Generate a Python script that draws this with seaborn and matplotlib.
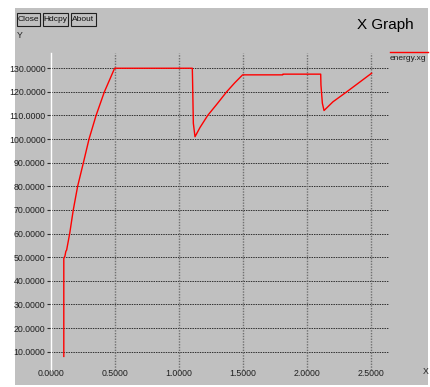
import matplotlib
matplotlib.use("Agg")
import matplotlib.pyplot as plt
import seaborn as sns
import pandas as pd
from matplotlib.patches import Rectangle
from matplotlib.lines import Line2D

# ---- data ----
x_vals = [0.100, 0.100, 0.109, 0.116, 0.122, 0.146, 0.174, 0.208, 0.253, 0.297,
          0.352, 0.417, 0.497, 1.080, 1.104, 1.106, 1.112, 1.125, 1.165, 1.224,
          1.302, 1.372, 1.435, 1.497, 1.810, 1.812, 2.107, 2.109, 2.120, 2.133,
          2.203, 2.310, 2.505]
y_vals = [8.0, 49.5, 50.5, 52.5, 53.0, 60.0, 70.0, 80.0, 90.0, 100.0,
          110.0, 120.0, 130.0, 130.0, 130.0, 125.0, 106.7, 101.0, 105.0, 110.0,
          115.2, 120.0, 123.8, 127.2, 127.2, 127.5, 127.5, 122.9, 115.2, 112.1,
          115.8, 120.0, 127.9]
x_ticks = [0.0, 0.5, 1.0, 1.5, 2.0, 2.5]
y_ticks = [10, 20, 30, 40, 50, 60, 70, 80, 90, 100, 110, 120, 130]
series_name = "energy.xg"
title = "X Graph"
buttons = ["Close", "Hdcpy", "About"]

df = pd.DataFrame({"x": x_vals, "y": y_vals})

W, H = 431, 387
fig = plt.figure(figsize=(W / 100, H / 100), dpi=100, facecolor="white")
FONT = ["Liberation Sans Narrow", "Liberation Sans", "DejaVu Sans"]
GRAY = "#c0c0c0"

def fx(px):
    return px / W

def fy(py):
    return 1 - py / H

# gray window background
fig.patches.append(Rectangle((fx(15), fy(385)), fx(428) - fx(15), fy(8) - fy(385),
                             transform=fig.transFigure, facecolor=GRAY,
                             edgecolor="none", zorder=-10))

# buttons
for label, (x0, x1) in zip(buttons, [(17, 40), (43, 68), (71, 95.5)]):
    fig.patches.append(Rectangle((fx(x0), fy(26)), fx(x1) - fx(x0), fy(13) - fy(26),
                                 transform=fig.transFigure, facecolor=GRAY,
                                 edgecolor="#202020", lw=0.8, zorder=-5))
    fig.text(fx((x0 + x1) / 2), fy(19.5), label, ha="center", va="center",
             fontsize=6, family=FONT, color="#101010")

fig.text(fx(385), fy(24.5), title, ha="center", va="center", fontsize=11,
         family=FONT, color="black")
fig.text(fx(17), fy(35), "Y", ha="left", va="center", fontsize=6.3,
         family=FONT, color="#202020")
fig.text(fx(426), fy(371), "X", ha="center", va="center", fontsize=6.3,
         family=FONT, color="#202020")

# legend
fig.lines.append(Line2D([fx(390), fx(428)], [fy(52), fy(52)],
                        transform=fig.transFigure, color="red", lw=1))
fig.text(fx(390), fy(58), series_name, ha="left", va="center", fontsize=6,
         family=FONT, color="#202020")

# axes: x px = 51 + 128*x ; y px = 375.3 - 2.362*y
xlim = (0.0, (389 - 51) / 128)
ylim = ((375.3 - 370) / 2.362, (375.3 - 53) / 2.362)
ax = fig.add_axes([fx(51), fy(370), fx(389) - fx(51), fy(53) - fy(370)])
ax.set_facecolor("none")

sns.lineplot(data=df, x="x", y="y", ax=ax, sort=False, estimator=None,
             color="red", lw=1, zorder=3)

ax.set_xlim(*xlim)
ax.set_ylim(*ylim)
ax.set_xticks(x_ticks)
ax.set_xticklabels([f"{v:.4f}" for v in x_ticks], family=FONT, fontsize=6.3)
ax.set_yticks(y_ticks)
ax.set_yticklabels([f"{v:.4f}" for v in y_ticks], family=FONT, fontsize=6.3)
ax.tick_params(axis="y", length=3, width=0.8, color="#303030", pad=1,
               labelcolor="#202020")
ax.tick_params(axis="x", length=0, pad=-1, labelcolor="#202020")
ax.set_xlabel("")
ax.set_ylabel("")

for v in y_ticks:
    ax.axhline(v, color="#303030", lw=0.7, ls=(0, (1.5, 1.0)), zorder=1)
for v in x_ticks[1:]:
    ax.axvline(v, color="#707070", lw=1.0, ls=(0, (1, 1)), zorder=1)

for s in ["top", "right", "bottom"]:
    ax.spines[s].set_visible(False)
ax.spines["left"].set_color("white")
ax.spines["left"].set_linewidth(1.0)

fig.savefig("out.png", dpi=100, facecolor="white")
